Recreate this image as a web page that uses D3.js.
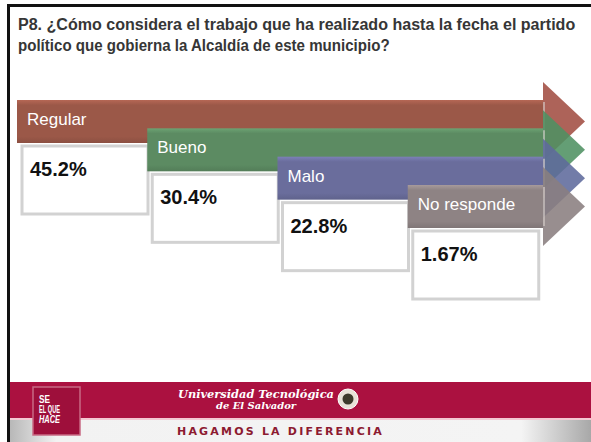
<!DOCTYPE html>
<html>
<head>
<meta charset="utf-8">
<script src="https://cdn.jsdelivr.net/npm/d3@7"></script>
<style>
  body { margin: 0; background: #fff; }
  svg { display: block; }
</style>
</head>
<body>
<div id="chart"></div>
<script>
// datos de la pregunta P8
var categorias = ['Regular', 'Bueno', 'Malo', 'No responde'];
var valores = [45.2, 30.4, 22.8, 1.67];
var etiquetas = ['45.2%', '30.4%', '22.8%', '1.67%'];
var colores = ['#9b5848', '#5c8b62', '#6a6d9c', '#8e8384'];
var coloresPunta = ['#a24d42', '#4f9162', '#5f6a9c', '#8a7e80'];

var titulo = [
    'P8. ¿Cómo considera el trabajo que ha realizado hasta  la fecha el partido',
    'político  que gobierna la Alcaldía de este municipio?'
];

var W = 591, H = 442;
var svg = d3.select('#chart').append('svg')
    .attr('width', W).attr('height', H);

var defs = svg.append('defs');

// fondo
svg.append('rect').attr('width', W).attr('height', H).attr('fill', '#fff');

// titulo (se comprime horizontalmente como en el original)
var anchos = [558, 372];
var tit = svg.selectAll('text.titulo')
    .data(titulo).enter()
    .append('text')
      .attr('class', 'titulo')
      .attr('x', 0)
      .attr('y', 0)
      .style('font-family', '"Liberation Sans Narrow", "Arial Narrow", "Liberation Sans", Arial, sans-serif')
      .style('font-weight', 'bold')
      .style('font-size', '17px')
      .attr('fill', '#363636')
      .text(function(d) { return d; });
tit.attr('transform', function(d, i) {
    var s = anchos[i] / this.getComputedTextLength();
    return 'translate(18,' + (30 + i * 21) + ') scale(' + s + ',1)';
});

// escalas
var fx = d3.scaleBand()
    .domain(categorias)
    .range([17, 538])
    .paddingInner(0);
var fy = d3.scaleLinear()
    .domain([0, categorias.length - 1])
    .range([100, 185]);

var alto = 43;      // alto de la flecha
var finX = 543;     // donde empieza la punta
var puntaX = 585;
var extra = 18;

categorias.forEach(function(c, i) {
    var g = defs.append('linearGradient')
        .attr('id', 'grad' + i)
        .attr('x1', 0).attr('y1', 0).attr('x2', 0).attr('y2', 1);
    var base = d3.color(colores[i]);
    g.append('stop').attr('offset', '0%').attr('stop-color', base.brighter(0.45));
    g.append('stop').attr('offset', '12%').attr('stop-color', base);
    g.append('stop').attr('offset', '85%').attr('stop-color', base);
    g.append('stop').attr('offset', '100%').attr('stop-color', base.darker(0.3));
});

var datos = categorias.map(function(c, i) {
    return { cat: c, valor: valores[i], etiqueta: etiquetas[i], i: i };
});

var flechas = svg.selectAll('g.flecha')
    .data(datos).enter()
    .append('g')
      .attr('class', 'flecha');

flechas.append('rect')
    .attr('x', function(d) { return fx(d.cat); })
    .attr('y', function(d) { return fy(d.i); })
    .attr('width', function(d) { return finX - fx(d.cat); })
    .attr('height', alto)
    .attr('fill', function(d) { return 'url(#grad' + d.i + ')'; });

flechas.append('path')
    .attr('d', function(d) {
        var y0 = fy(d.i);
        return 'M' + finX + ',' + (y0 - extra) +
               'L' + puntaX + ',' + (y0 + alto / 2) +
               'L' + finX + ',' + (y0 + alto + extra) + 'Z';
    })
    .attr('fill', function(d) { return coloresPunta[d.i]; })
    .attr('opacity', 0.88);

flechas.append('line')
    .attr('x1', finX + 1).attr('x2', finX + 1)
    .attr('y1', function(d) { return fy(d.i) + 2; })
    .attr('y2', function(d) { return fy(d.i) + alto - 2; })
    .attr('stroke', '#d8d0cc')
    .attr('stroke-width', 2)
    .attr('opacity', 0.6);

flechas.append('text')
    .attr('x', function(d) { return fx(d.cat) + 10; })
    .attr('y', function(d) { return fy(d.i) + 25; })
    .style('font-family', '"Liberation Sans", Arial, sans-serif')
    .style('font-size', '17px')
    .attr('fill', '#fff')
    .text(function(d) { return d.cat; });

flechas.append('rect')
    .attr('x', function(d) { return fx(d.cat) + 5; })
    .attr('y', function(d) { return fy(d.i) + alto + 3; })
    .attr('width', 126)
    .attr('height', 68)
    .attr('fill', '#fff')
    .attr('stroke', '#d2d2d2')
    .attr('stroke-width', 3);

flechas.append('text')
    .attr('x', function(d) { return fx(d.cat) + 13; })
    .attr('y', function(d) { return fy(d.i) + 76; })
    .style('font-family', '"Liberation Sans", Arial, sans-serif')
    .style('font-size', '20px')
    .style('font-weight', 'bold')
    .attr('fill', '#111')
    .text(function(d) { return d.etiqueta; });

// pie de pagina
var pie = svg.append('g').attr('class', 'pie');

var gb = defs.append('linearGradient').attr('id', 'gris')
    .attr('x1', 0).attr('x2', 1).attr('y1', 0).attr('y2', 0);
gb.append('stop').attr('offset', '0%').attr('stop-color', '#b8b8b8');
gb.append('stop').attr('offset', '8%').attr('stop-color', '#f2f2f2');
gb.append('stop').attr('offset', '88%').attr('stop-color', '#f4f4f4');
gb.append('stop').attr('offset', '100%').attr('stop-color', '#a8a8a8');

pie.append('rect').attr('x', 10).attr('y', 382).attr('width', W - 10).attr('height', 36)
    .attr('fill', '#ab1140');
pie.append('rect').attr('x', 10).attr('y', 418).attr('width', W - 10).attr('height', 2)
    .attr('fill', '#f3c8d2');
pie.append('rect').attr('x', 10).attr('y', 420).attr('width', W - 10).attr('height', 22)
    .attr('fill', 'url(#gris)');

pie.append('rect').attr('x', 33).attr('y', 387).attr('width', 47).attr('height', 48)
    .attr('fill', '#9e0f3b').attr('stroke', '#c86a84').attr('stroke-width', 1.5);
['SE', 'EL QUE', 'HACE'].forEach(function(t, i) {
    pie.append('text')
        .attr('x', 39).attr('y', 403 + i * 10)
        .attr('textLength', i == 0 ? 11 : 21)
        .attr('lengthAdjust', 'spacingAndGlyphs')
        .style('font-family', '"Liberation Sans Narrow", "Liberation Sans", Arial, sans-serif')
        .style('font-size', '10px')
        .style('font-weight', 'bold')
        .style('font-style', i == 2 ? 'italic' : 'normal')
        .attr('fill', '#fff')
        .text(t);
});

pie.append('text')
    .attr('x', 178).attr('y', 398)
    .attr('textLength', 156)
    .attr('lengthAdjust', 'spacingAndGlyphs')
    .style('font-family', '"DejaVu Serif", "Liberation Serif", serif')
    .style('font-size', '11px')
    .style('font-weight', 'bold')
    .style('font-style', 'italic')
    .attr('fill', '#fff')
    .text('Universidad Tecnológica');
pie.append('text')
    .attr('x', 216).attr('y', 409)
    .attr('textLength', 80)
    .attr('lengthAdjust', 'spacingAndGlyphs')
    .style('font-family', '"DejaVu Serif", "Liberation Serif", serif')
    .style('font-size', '8.5px')
    .style('font-weight', 'bold')
    .style('font-style', 'italic')
    .attr('fill', '#fff')
    .text('de El Salvador');

pie.append('circle').attr('cx', 348).attr('cy', 399).attr('r', 10)
    .attr('fill', '#e8e2d8').attr('stroke', '#fff').attr('stroke-width', 1);
pie.append('circle').attr('cx', 348).attr('cy', 399).attr('r', 5.5)
    .attr('fill', '#3d3a2c');

pie.append('text')
    .attr('x', 177).attr('y', 435)
    .style('font-family', '"DejaVu Sans", "Liberation Sans", sans-serif')
    .style('font-size', '11px')
    .style('font-weight', 'bold')
    .style('letter-spacing', '2.2px')
    .attr('fill', '#8c1a30')
    .text('HAGAMOS LA DIFERENCIA');

// marco
svg.append('path')
    .attr('d', 'M8.5,' + H + 'V5.5H' + W)
    .attr('fill', 'none')
    .attr('stroke', '#111')
    .attr('stroke-width', 3);
</script>
</body>
</html>
